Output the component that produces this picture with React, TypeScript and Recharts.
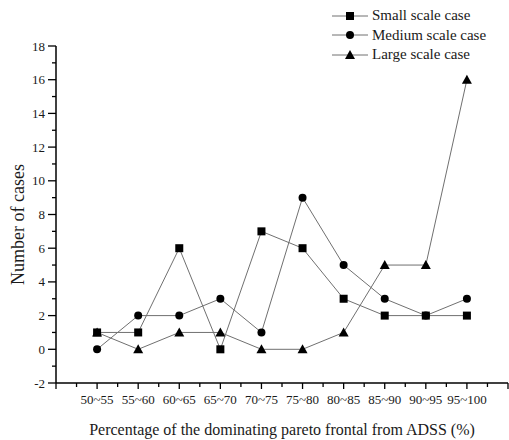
import React from 'react';
import { LineChart, Line, XAxis, YAxis, Label } from 'recharts';

const categories = ['50~55', '55~60', '60~65', '65~70', '70~75', '75~80', '80~85', '85~90', '90~95', '95~100'];
const smallCase = [1, 1, 6, 0, 7, 6, 3, 2, 2, 2];
const mediumCase = [0, 2, 2, 3, 1, 9, 5, 3, 2, 3];
const largeCase = [1, 0, 1, 1, 0, 0, 1, 5, 5, 16];
const yTicks = [-2, -1, 0, 1, 2, 3, 4, 5, 6, 7, 8, 9, 10, 11, 12, 13, 14, 15, 16, 17, 18];
const xTicks = [0, 0.5, 1, 1.5, 2, 2.5, 3, 3.5, 4, 4.5, 5, 5.5, 6, 6.5, 7, 7.5, 8, 8.5, 9, 9.5, 10, 10.5, 11];

const data = categories.map((c, i) => ({
  x: i + 1,
  label: c,
  small: smallCase[i],
  medium: mediumCase[i],
  large: largeCase[i],
}));

const FONT = '"Liberation Serif", "Times New Roman", serif';
const LINE_COLOR = '#707070';
const TEXT_COLOR = '#1a1a1a';

const Square = ({ cx, cy }: any) => <rect x={cx - 4} y={cy - 4} width={8} height={8} fill="#000" />;
const Circle = ({ cx, cy }: any) => <circle cx={cx} cy={cy} r={4} fill="#000" />;
const Triangle = ({ cx, cy }: any) => (
  <polygon points={`${cx},${cy - 5} ${cx + 5},${cy + 4} ${cx - 5},${cy + 4}`} fill="#000" />
);

const XTick = (props: any) => {
  const { x, y, payload } = props;
  const v = payload.value;
  const isMajor = Number.isInteger(v);
  const idx = v - 1;
  const label = isMajor && idx >= 0 && idx < categories.length ? categories[idx] : '';
  return (
    <g>
      <line x1={x} x2={x} y1={y} y2={y + (isMajor ? 6 : 4)} stroke="#000" strokeWidth={1.3} />
      {label && (
        <text x={x} y={y + 21} textAnchor="middle" fontSize={13} fontFamily={FONT} fill={TEXT_COLOR}>
          {label}
        </text>
      )}
    </g>
  );
};

const YTick = (props: any) => {
  const { x, y, payload } = props;
  const v = payload.value;
  const isMajor = v % 2 === 0;
  return (
    <g>
      <line x1={x - (isMajor ? 8 : 4)} x2={x} y1={y} y2={y} stroke="#000" strokeWidth={1.3} />
      {isMajor && (
        <text x={x - 11} y={y + 4.5} textAnchor="end" fontSize={13} fontFamily={FONT} fill={TEXT_COLOR}>
          {v}
        </text>
      )}
    </g>
  );
};

const YTitle = (props: any) => {
  const vb = props.viewBox || {};
  const cx = 18;
  const cy = (vb.y ?? 46) + (vb.height ?? 337) / 2 + 10;
  return (
    <text
      x={cx}
      y={cy}
      transform={`rotate(-90, ${cx}, ${cy})`}
      textAnchor="middle"
      dominantBaseline="central"
      fontSize={18}
      fontFamily={FONT}
      fill={TEXT_COLOR}
    >
      Number of cases
    </text>
  );
};

const legendItems = [
  { name: 'Small scale case', shape: 'square' },
  { name: 'Medium scale case', shape: 'circle' },
  { name: 'Large scale case', shape: 'triangle' },
];

const LegendBox = () => (
  <div
    style={{
      position: 'absolute',
      top: 6,
      left: 330,
      width: 180,
      fontFamily: FONT,
      fontSize: 15,
      color: TEXT_COLOR,
    }}
  >
    {legendItems.map((it) => (
      <div key={it.name} style={{ display: 'flex', alignItems: 'center', height: 19.5 }}>
        <svg width={42} height={14} style={{ display: 'block' }}>
          <line x1={2} x2={38} y1={7} y2={7} stroke={LINE_COLOR} strokeWidth={1} />
          {it.shape === 'square' && <Square cx={20} cy={7} />}
          {it.shape === 'circle' && <Circle cx={20} cy={7} />}
          {it.shape === 'triangle' && <Triangle cx={20} cy={7} />}
        </svg>
        <span style={{ lineHeight: '19.5px', whiteSpace: 'nowrap' }}>{it.name}</span>
      </div>
    ))}
  </div>
);

export default function App() {
  return (
    <div style={{ position: 'absolute', left: 0, top: 0, width: 509, height: 440, background: '#fff' }}>
      <LineChart width={509} height={440} data={data} margin={{ top: 46, right: 1, bottom: 0, left: 0 }}>
        <XAxis
          dataKey="x"
          type="number"
          domain={[0, 11]}
          ticks={xTicks}
          interval={0}
          tick={<XTick />}
          tickLine={false}
          tickSize={0}
          tickMargin={0}
          height={57}
          axisLine={{ stroke: '#000', strokeWidth: 1.5 }}
          label={{
            value: 'Percentage of the dominating pareto frontal from ADSS (%)',
            position: 'insideBottom',
            offset: 5,
            style: { fontFamily: FONT, fontSize: 16, fill: TEXT_COLOR },
          }}
        />
        <YAxis
          type="number"
          domain={[-2, 18]}
          ticks={yTicks}
          interval={0}
          tick={<YTick />}
          tickLine={false}
          tickSize={0}
          tickMargin={0}
          width={56}
          axisLine={{ stroke: '#000', strokeWidth: 1.5 }}
        >
          <Label content={<YTitle />} />
        </YAxis>
        <Line dataKey="small" stroke={LINE_COLOR} strokeWidth={1} dot={<Square />} isAnimationActive={false} />
        <Line dataKey="medium" stroke={LINE_COLOR} strokeWidth={1} dot={<Circle />} isAnimationActive={false} />
        <Line dataKey="large" stroke={LINE_COLOR} strokeWidth={1} dot={<Triangle />} isAnimationActive={false} />
      </LineChart>
      <LegendBox />
    </div>
  );
}
